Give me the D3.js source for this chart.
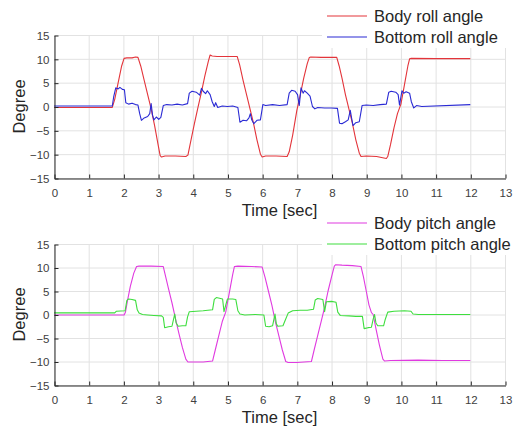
<!DOCTYPE html>
<html>
<head>
<meta charset="utf-8">
<script src="https://cdn.jsdelivr.net/npm/d3@7"></script>
<style>
  body { margin: 0; background: #ffffff; }
  svg { display: block; font-family: "Liberation Sans", Arial, sans-serif; }
  .grid line { stroke: #e2e2e2; stroke-width: 1; }
  .axis path, .axis line { stroke: #262626; }
  .axis text { fill: #404040; font-size: 11.5px; }
  .label { fill: #262626; font-size: 16.5px; }
  .legend text { fill: #262626; font-size: 16.5px; }
</style>
</head>
<body>
<svg id="chart" width="519" height="428"></svg>
<script>

const xTicks = d3.range(0, 14);
const yTicks = [-15, -10, -5, 0, 5, 10, 15];

// [time sec, degree]
const bodyRoll = [
  [0, -0.2], [1.68, -0.2], [1.75, 1.5], [1.85, 5], [1.95, 8.5], [2.02, 10.1], [2.1, 10.2],
  [2.25, 10.2], [2.35, 10.4], [2.42, 10.3], [2.5, 8.5], [2.6, 5.5], [2.7, 2.5], [2.8, -0.5],
  [2.9, -4], [3.0, -8], [3.06, -10.3], [3.1, -10.6], [3.2, -10.4], [3.5, -10.4], [3.8, -10.5],
  [3.86, -10.2], [3.95, -7], [4.05, -3.5], [4.15, -0.2], [4.25, 3], [4.35, 6.5], [4.45, 9.5],
  [4.5, 10.8], [4.56, 10.6], [4.7, 10.5], [5.0, 10.5], [5.28, 10.5], [5.35, 8.8], [5.45, 5.5],
  [5.55, 2.5], [5.65, -0.5], [5.75, -3.5], [5.85, -7], [5.95, -10], [6.0, -10.6], [6.1, -10.4],
  [6.4, -10.4], [6.72, -10.5], [6.78, -9.5], [6.88, -6], [7.0, -0.8], [7.1, 2.5], [7.2, 6],
  [7.3, 9], [7.36, 10.3], [7.4, 10.4], [7.7, 10.3], [8.15, 10.3], [8.22, 8.5], [8.3, 6],
  [8.4, 2.5], [8.5, -0.5], [8.6, -3.5], [8.7, -7], [8.8, -9.8], [8.85, -10.5], [9.0, -10.4],
  [9.3, -10.5], [9.58, -10.9], [9.62, -10.5], [9.7, -8], [9.8, -4.5], [9.9, -1.5], [10.0, 0.5],
  [10.1, 4.5], [10.2, 8.5], [10.25, 10], [10.3, 10.1], [11, 10.05], [12, 10.05]
];

const bottomRoll = [
  [0, 0.1], [1.68, 0.1], [1.72, 2], [1.78, 3.9], [1.85, 3.7], [1.9, 4], [1.97, 3.6], [2.03, 3.5],
  [2.07, 0.8], [2.15, 0.5], [2.25, 0.7], [2.35, 0.4], [2.42, 0.3], [2.47, -1.5], [2.52, -2.9],
  [2.6, -2.4], [2.7, -2.1], [2.76, -1.5], [2.8, 0.6], [2.84, -1.8], [2.88, -2.8], [2.95, -2.2],
  [3.02, -2.7], [3.08, -2.3], [3.15, 0.2], [3.25, 0.4], [3.4, 0.3], [3.55, 0.5], [3.7, 0.3],
  [3.85, 0.6], [3.9, 2.8], [3.98, 3.2], [4.1, 3], [4.2, 2.4], [4.25, 3.8], [4.3, 3.2], [4.37, 2.7],
  [4.42, 3.3], [4.5, 2.5], [4.56, 1], [4.62, 0], [4.66, 0.8], [4.72, -0.2], [4.85, 0.1], [5.0, 0],
  [5.15, 0.1], [5.3, -0.2], [5.36, -3.3], [5.45, -2.9], [5.55, -3], [5.62, -2.4], [5.66, -1.5],
  [5.7, -2.8], [5.76, -3.6], [5.85, -2.9], [5.95, -2.8], [6.02, 0.4], [6.1, 0.2], [6.3, 0.4],
  [6.5, 0.2], [6.72, 0.4], [6.78, 2.8], [6.85, 3.4], [6.95, 3.2], [7.02, 2.5], [7.07, 0.2],
  [7.12, 3.9], [7.18, 2.8], [7.22, 3.3], [7.3, 2.8], [7.38, 2.2], [7.45, 0], [7.52, -0.5],
  [7.6, -0.2], [7.8, -0.3], [8.0, -0.3], [8.17, -0.4], [8.23, -3.5], [8.3, -3.6], [8.4, -3.2],
  [8.48, -2.8], [8.54, -0.8], [8.58, -2.5], [8.62, -4], [8.7, -3.4], [8.8, -3.2], [8.88, 0.2],
  [9.0, 0.3], [9.2, 0.2], [9.4, 0.4], [9.58, 0.5], [9.65, 3], [9.72, 3.2], [9.85, 3], [9.92, 2.5],
  [9.96, 0.3], [10.03, 3.3], [10.08, 2.8], [10.15, 3.1], [10.25, 2.8], [10.3, 1], [10.37, -0.3],
  [10.45, 0.2], [10.6, 0], [12, 0.4]
];

const bodyPitch = [
  [0, -0.1], [2.02, -0.1], [2.06, 0.5], [2.12, 3], [2.2, 6], [2.3, 8.8], [2.38, 10.2], [2.45, 10.3],
  [2.8, 10.3], [3.15, 10.2], [3.22, 8], [3.3, 5.5], [3.4, 2.5], [3.5, -0.8], [3.6, -4], [3.7, -7],
  [3.8, -9.5], [3.86, -10.1], [4.0, -10.1], [4.3, -10.1], [4.57, -9.9], [4.65, -7.5], [4.75, -4.5],
  [4.85, -1.5], [4.95, 0.5], [5.05, 4.5], [5.15, 8.5], [5.2, 10.2], [5.3, 10.3], [5.7, 10.2],
  [6.0, 10.1], [6.08, 8], [6.18, 5], [6.28, 2], [6.38, -1.5], [6.48, -4.5], [6.58, -7.5],
  [6.68, -10], [6.75, -10.2], [7.0, -10.2], [7.42, -10], [7.5, -7.5], [7.6, -4.5], [7.7, -1.5],
  [7.8, 1.5], [7.9, 5], [8.0, 8], [8.08, 10.3], [8.12, 10.6], [8.3, 10.5], [8.6, 10.4],
  [8.85, 10.2], [8.92, 8], [9.0, 5], [9.08, 2], [9.15, 0.4], [9.2, 0], [9.28, -3], [9.38, -6.5],
  [9.48, -9.5], [9.53, -9.9], [9.7, -9.8], [10.5, -9.7], [11.2, -9.8], [12, -9.8]
];

const bottomPitch = [
  [0, 0.35], [1.75, 0.35], [1.8, 0.7], [2.05, 0.8], [2.1, 3], [2.15, 3.3], [2.25, 3.2], [2.35, 3],
  [2.4, 1], [2.45, 0.3], [2.55, 0], [2.7, -0.1], [2.88, -0.2], [3.1, -0.3], [3.15, -0.6],
  [3.19, -2.8], [3.3, -2.6], [3.4, -2.5], [3.44, -1.2], [3.48, 0.1], [3.52, -1.8], [3.58, -2.5],
  [3.7, -2.4], [3.8, -2.4], [3.85, -0.5], [3.9, 0.6], [4.1, 0.7], [4.3, 0.8], [4.57, 1],
  [4.62, 3.2], [4.68, 3.6], [4.8, 3.4], [4.86, 3.3], [4.9, 0.6], [4.95, 2], [5.0, 3.3],
  [5.15, 3.3], [5.24, 3.2], [5.3, 0.8], [5.36, 0.1], [5.5, -0.1], [5.8, 0], [6.05, -0.1],
  [6.1, -2.5], [6.2, -2.6], [6.3, -2.4], [6.34, -1], [6.37, 0.1], [6.41, -2], [6.45, -2.5],
  [6.6, -2.4], [6.65, -1.5], [6.75, 0.3], [6.88, 0.8], [7.1, 0.9], [7.3, 0.9], [7.48, 1.1],
  [7.53, 3.1], [7.6, 3.4], [7.75, 3.2], [7.8, 0.6], [7.85, 2.7], [8.0, 2.8], [8.13, 2.6],
  [8.18, 0.5], [8.25, -0.2], [8.5, -0.3], [8.7, -0.4], [8.89, -0.4], [8.94, -3], [9.05, -2.8],
  [9.15, -2.7], [9.2, -1], [9.24, 0], [9.28, -1.8], [9.33, -2.4], [9.5, -2.4], [9.55, -1],
  [9.62, 0.5], [9.8, 0.7], [10.1, 0.8], [10.29, 0.7], [10.35, 0.1], [10.5, 0], [12, 0]
];

const rollSeries = [
  {name: 'Body roll angle', data: bodyRoll, color: '#e3343a'},
  {name: 'Bottom roll angle', data: bottomRoll, color: '#2a2ad4'}
];
const pitchSeries = [
  {name: 'Body pitch angle', data: bodyPitch, color: '#e03ae0'},
  {name: 'Bottom pitch angle', data: bottomPitch, color: '#3ede3e'}
];

const left = 54;
const right = 505;

const x = d3.scaleLinear().domain([0, 13]).range([left, right]);


function drawPanel(selection, series, top, bottom, legendTop) {
  const y = d3.scaleLinear().domain([-15, 15]).range([bottom, top]);

  // grid
  const grid = selection.append('g').attr('class', 'grid');
  grid.selectAll('.gx')
    .data(xTicks)
    .enter().append('line')
      .attr('x1', d => x(d) + 0.5).attr('x2', d => x(d) + 0.5)
      .attr('y1', top).attr('y2', bottom);
  grid.selectAll('.gy')
    .data(yTicks)
    .enter().append('line')
      .attr('x1', left).attr('x2', right)
      .attr('y1', d => y(d) + 0.5).attr('y2', d => y(d) + 0.5);

  // lines
  const line = d3.line()
    .x(d => x(d[0]))
    .y(d => y(d[1]));
  selection.append('g')
    .selectAll('path')
    .data(series)
    .enter().append('path')
      .attr('d', d => line(d.data))
      .attr('fill', 'none')
      .attr('stroke', d => d.color)
      .attr('stroke-width', 1.1)
      .attr('stroke-linejoin', 'round');

  // axes (ticks point inward, box off)
  selection.append('g')
      .attr('class', 'axis')
      .attr('transform', `translate(0.5,${bottom + 0.5})`)
      .call(d3.axisBottom(x).tickValues(xTicks).tickSizeInner(-4).tickSizeOuter(0)
        .tickPadding(10).tickFormat(d3.format('d')))
      .call(g => g.selectAll('text').attr('font-size', null));
  selection.append('g')
      .attr('class', 'axis')
      .attr('transform', `translate(${left + 0.5},0.5)`)
      .call(d3.axisLeft(y).tickValues(yTicks).tickSizeInner(-4).tickSizeOuter(0)
        .tickPadding(5))
      .call(g => g.selectAll('text').attr('font-size', null));
  selection.selectAll('.axis').attr('font-family', null);

  selection.append('text')
      .attr('class', 'label')
      .attr('text-anchor', 'middle')
      .attr('x', (left + right) / 2)
      .attr('y', bottom + 38)
      .text('Time [sec]');
  selection.append('text')
      .attr('class', 'label')
      .attr('text-anchor', 'middle')
      .attr('transform', `translate(25,${(top + bottom) / 2}) rotate(-90)`)
      .text('Degree');

  // legend
  const legend = selection.append('g')
      .attr('class', 'legend')
      .attr('transform', `translate(322,${legendTop})`);
  legend.append('rect')
      .attr('width', 197)
      .attr('height', 48)
      .attr('fill', '#ffffff');
  const item = legend.selectAll('.item')
    .data(series)
    .enter().append('g')
      .attr('class', 'item')
      .attr('transform', (d, i) => `translate(0,${16 + i * 21})`);
  item.append('line')
      .attr('x1', 5).attr('x2', 45)
      .attr('stroke', d => d.color)
      .attr('stroke-width', 1.1);
  item.append('text')
      .attr('x', 52)
      .attr('y', 6)
      .text(d => d.name);
}


const svg = d3.select('#chart');
svg.append('g').call(drawPanel, rollSeries, 35, 178, 0);
svg.append('g').call(drawPanel, pitchSeries, 244, 385, 207);

</script>
</body>
</html>
